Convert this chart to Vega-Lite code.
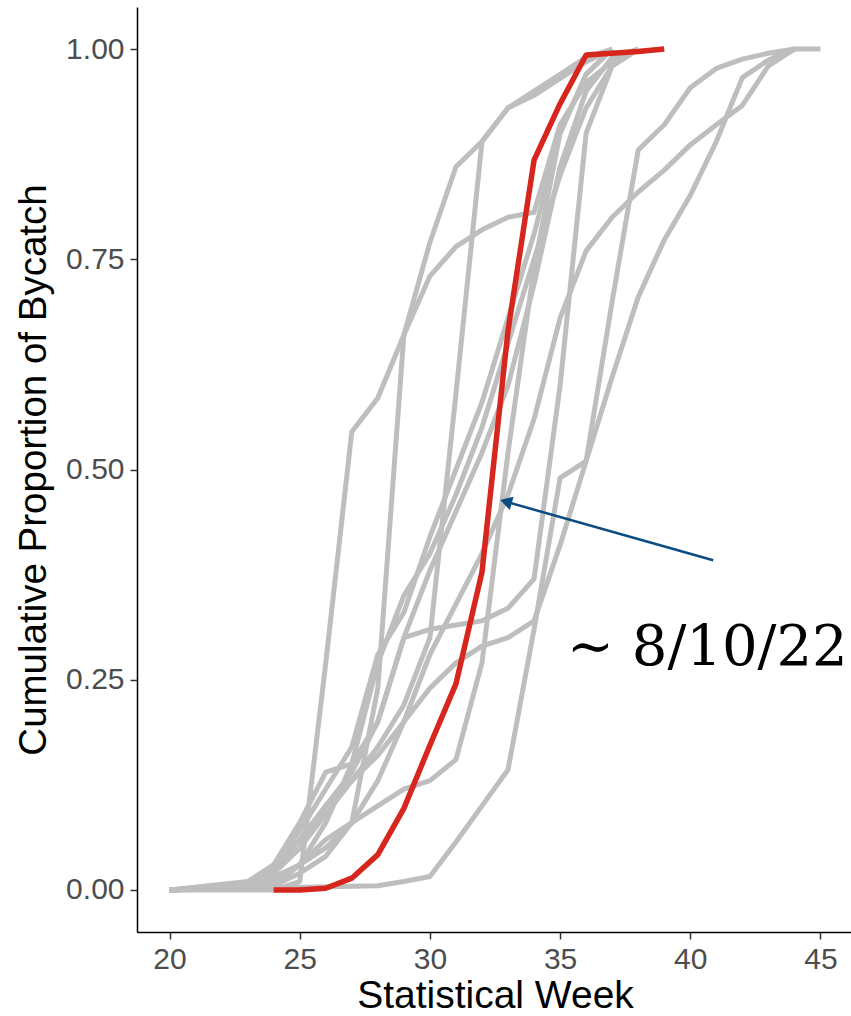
{
  "$schema": "https://vega.github.io/schema/vega-lite/v6.json",
  "autosize": {"type": "none"},
  "width": 716,
  "height": 925,
  "padding": {"left": 137, "top": 7, "right": 0, "bottom": 84},
  "background": "white",
  "config": {
    "view": {"stroke": null},
    "axis": {"grid": false, "domainColor": "#000000", "domainWidth": 1.5, "tickColor": "#333333", "tickWidth": 1.5, "tickSize": 7, "labelColor": "#4D4D4D", "labelFont": "Liberation Sans", "labelFontSize": 30, "titleFont": "Liberation Sans", "titleFontWeight": "normal", "titleColor": "#000000"}
  },
  "datasets": {
    "lines": [
      {"s": "g1", "week": 20, "value": 0}, {"s": "g1", "week": 24, "value": 0}, {"s": "g1", "week": 25, "value": 0.01}, {"s": "g1", "week": 26, "value": 0.27}, {"s": "g1", "week": 27, "value": 0.545}, {"s": "g1", "week": 28, "value": 0.585}, {"s": "g1", "week": 29, "value": 0.66}, {"s": "g1", "week": 30, "value": 0.77}, {"s": "g1", "week": 31, "value": 0.86}, {"s": "g1", "week": 32, "value": 0.89}, {"s": "g1", "week": 33, "value": 0.93}, {"s": "g1", "week": 34, "value": 0.945}, {"s": "g1", "week": 35, "value": 0.965}, {"s": "g1", "week": 36, "value": 0.985}, {"s": "g1", "week": 37, "value": 1},
      {"s": "v1", "week": 20, "value": 0}, {"s": "v1", "week": 23, "value": 0.005}, {"s": "v1", "week": 24, "value": 0.015}, {"s": "v1", "week": 25, "value": 0.03}, {"s": "v1", "week": 26, "value": 0.05}, {"s": "v1", "week": 27, "value": 0.08}, {"s": "v1", "week": 28, "value": 0.24}, {"s": "v1", "week": 29, "value": 0.66}, {"s": "v1", "week": 30, "value": 0.73}, {"s": "v1", "week": 31, "value": 0.765}, {"s": "v1", "week": 32, "value": 0.785}, {"s": "v1", "week": 33, "value": 0.8}, {"s": "v1", "week": 34, "value": 0.806}, {"s": "v1", "week": 35, "value": 0.91}, {"s": "v1", "week": 36, "value": 0.96}, {"s": "v1", "week": 37, "value": 0.985}, {"s": "v1", "week": 38, "value": 1},
      {"s": "v2", "week": 20, "value": 0}, {"s": "v2", "week": 23, "value": 0.005}, {"s": "v2", "week": 24, "value": 0.02}, {"s": "v2", "week": 25, "value": 0.05}, {"s": "v2", "week": 26, "value": 0.09}, {"s": "v2", "week": 27, "value": 0.13}, {"s": "v2", "week": 28, "value": 0.17}, {"s": "v2", "week": 29, "value": 0.22}, {"s": "v2", "week": 30, "value": 0.3}, {"s": "v2", "week": 31, "value": 0.59}, {"s": "v2", "week": 32, "value": 0.89}, {"s": "v2", "week": 33, "value": 0.93}, {"s": "v2", "week": 34, "value": 0.95}, {"s": "v2", "week": 35, "value": 0.97}, {"s": "v2", "week": 36, "value": 0.99}, {"s": "v2", "week": 37, "value": 1},
      {"s": "late", "week": 20, "value": 0}, {"s": "late", "week": 28, "value": 0.005}, {"s": "late", "week": 29, "value": 0.01}, {"s": "late", "week": 30, "value": 0.016}, {"s": "late", "week": 31, "value": 0.057}, {"s": "late", "week": 32, "value": 0.1}, {"s": "late", "week": 33, "value": 0.143}, {"s": "late", "week": 34, "value": 0.31}, {"s": "late", "week": 35, "value": 0.49}, {"s": "late", "week": 36, "value": 0.51}, {"s": "late", "week": 37, "value": 0.7}, {"s": "late", "week": 38, "value": 0.88}, {"s": "late", "week": 39, "value": 0.91}, {"s": "late", "week": 40, "value": 0.954}, {"s": "late", "week": 41, "value": 0.977}, {"s": "late", "week": 42, "value": 0.988}, {"s": "late", "week": 43, "value": 0.995}, {"s": "late", "week": 44, "value": 1},
      {"s": "late2", "week": 20, "value": 0}, {"s": "late2", "week": 23, "value": 0.005}, {"s": "late2", "week": 24, "value": 0.025}, {"s": "late2", "week": 25, "value": 0.06}, {"s": "late2", "week": 26, "value": 0.1}, {"s": "late2", "week": 27, "value": 0.13}, {"s": "late2", "week": 28, "value": 0.16}, {"s": "late2", "week": 29, "value": 0.2}, {"s": "late2", "week": 30, "value": 0.24}, {"s": "late2", "week": 31, "value": 0.27}, {"s": "late2", "week": 32, "value": 0.29}, {"s": "late2", "week": 33, "value": 0.3}, {"s": "late2", "week": 34, "value": 0.32}, {"s": "late2", "week": 35, "value": 0.41}, {"s": "late2", "week": 36, "value": 0.51}, {"s": "late2", "week": 37, "value": 0.61}, {"s": "late2", "week": 38, "value": 0.705}, {"s": "late2", "week": 39, "value": 0.773}, {"s": "late2", "week": 40, "value": 0.826}, {"s": "late2", "week": 41, "value": 0.89}, {"s": "late2", "week": 42, "value": 0.966}, {"s": "late2", "week": 43, "value": 0.987}, {"s": "late2", "week": 44, "value": 1}, {"s": "late2", "week": 45, "value": 1},
      {"s": "m1", "week": 20, "value": 0}, {"s": "m1", "week": 23, "value": 0.01}, {"s": "m1", "week": 24, "value": 0.03}, {"s": "m1", "week": 25, "value": 0.07}, {"s": "m1", "week": 26, "value": 0.12}, {"s": "m1", "week": 27, "value": 0.17}, {"s": "m1", "week": 28, "value": 0.28}, {"s": "m1", "week": 29, "value": 0.33}, {"s": "m1", "week": 30, "value": 0.42}, {"s": "m1", "week": 31, "value": 0.5}, {"s": "m1", "week": 32, "value": 0.58}, {"s": "m1", "week": 33, "value": 0.68}, {"s": "m1", "week": 34, "value": 0.78}, {"s": "m1", "week": 35, "value": 0.9}, {"s": "m1", "week": 36, "value": 0.97}, {"s": "m1", "week": 37, "value": 1},
      {"s": "m2", "week": 20, "value": 0}, {"s": "m2", "week": 23, "value": 0.005}, {"s": "m2", "week": 24, "value": 0.02}, {"s": "m2", "week": 25, "value": 0.05}, {"s": "m2", "week": 26, "value": 0.1}, {"s": "m2", "week": 27, "value": 0.14}, {"s": "m2", "week": 28, "value": 0.2}, {"s": "m2", "week": 29, "value": 0.3}, {"s": "m2", "week": 30, "value": 0.38}, {"s": "m2", "week": 31, "value": 0.45}, {"s": "m2", "week": 32, "value": 0.52}, {"s": "m2", "week": 33, "value": 0.6}, {"s": "m2", "week": 34, "value": 0.72}, {"s": "m2", "week": 35, "value": 0.86}, {"s": "m2", "week": 36, "value": 0.95}, {"s": "m2", "week": 37, "value": 0.99}, {"s": "m2", "week": 38, "value": 1},
      {"s": "m3", "week": 20, "value": 0}, {"s": "m3", "week": 24, "value": 0.005}, {"s": "m3", "week": 25, "value": 0.03}, {"s": "m3", "week": 26, "value": 0.08}, {"s": "m3", "week": 27, "value": 0.15}, {"s": "m3", "week": 28, "value": 0.27}, {"s": "m3", "week": 29, "value": 0.35}, {"s": "m3", "week": 30, "value": 0.4}, {"s": "m3", "week": 31, "value": 0.47}, {"s": "m3", "week": 32, "value": 0.55}, {"s": "m3", "week": 33, "value": 0.65}, {"s": "m3", "week": 34, "value": 0.75}, {"s": "m3", "week": 35, "value": 0.85}, {"s": "m3", "week": 36, "value": 0.93}, {"s": "m3", "week": 37, "value": 0.98}, {"s": "m3", "week": 38, "value": 1},
      {"s": "m4", "week": 20, "value": 0}, {"s": "m4", "week": 23, "value": 0.005}, {"s": "m4", "week": 24, "value": 0.03}, {"s": "m4", "week": 25, "value": 0.08}, {"s": "m4", "week": 26, "value": 0.14}, {"s": "m4", "week": 27, "value": 0.15}, {"s": "m4", "week": 28, "value": 0.2}, {"s": "m4", "week": 29, "value": 0.3}, {"s": "m4", "week": 30, "value": 0.31}, {"s": "m4", "week": 31, "value": 0.315}, {"s": "m4", "week": 32, "value": 0.32}, {"s": "m4", "week": 33, "value": 0.335}, {"s": "m4", "week": 34, "value": 0.37}, {"s": "m4", "week": 35, "value": 0.6}, {"s": "m4", "week": 36, "value": 0.9}, {"s": "m4", "week": 37, "value": 0.98}, {"s": "m4", "week": 38, "value": 1},
      {"s": "m6", "week": 20, "value": 0}, {"s": "m6", "week": 24, "value": 0.01}, {"s": "m6", "week": 25, "value": 0.03}, {"s": "m6", "week": 26, "value": 0.06}, {"s": "m6", "week": 27, "value": 0.08}, {"s": "m6", "week": 28, "value": 0.1}, {"s": "m6", "week": 29, "value": 0.12}, {"s": "m6", "week": 30, "value": 0.13}, {"s": "m6", "week": 31, "value": 0.155}, {"s": "m6", "week": 32, "value": 0.27}, {"s": "m6", "week": 33, "value": 0.52}, {"s": "m6", "week": 34, "value": 0.74}, {"s": "m6", "week": 35, "value": 0.9}, {"s": "m6", "week": 36, "value": 0.97}, {"s": "m6", "week": 37, "value": 1},
      {"s": "m5", "week": 20, "value": 0}, {"s": "m5", "week": 24, "value": 0.005}, {"s": "m5", "week": 25, "value": 0.02}, {"s": "m5", "week": 26, "value": 0.04}, {"s": "m5", "week": 27, "value": 0.08}, {"s": "m5", "week": 28, "value": 0.13}, {"s": "m5", "week": 29, "value": 0.2}, {"s": "m5", "week": 30, "value": 0.28}, {"s": "m5", "week": 31, "value": 0.34}, {"s": "m5", "week": 32, "value": 0.4}, {"s": "m5", "week": 33, "value": 0.47}, {"s": "m5", "week": 34, "value": 0.56}, {"s": "m5", "week": 35, "value": 0.68}, {"s": "m5", "week": 36, "value": 0.76}, {"s": "m5", "week": 37, "value": 0.8}, {"s": "m5", "week": 38, "value": 0.83}, {"s": "m5", "week": 39, "value": 0.856}, {"s": "m5", "week": 40, "value": 0.886}, {"s": "m5", "week": 41, "value": 0.91}, {"s": "m5", "week": 42, "value": 0.933}, {"s": "m5", "week": 43, "value": 0.98}, {"s": "m5", "week": 44, "value": 1},
      {"s": "red", "week": 24, "value": 0}, {"s": "red", "week": 25, "value": 0.0}, {"s": "red", "week": 26, "value": 0.002}, {"s": "red", "week": 27, "value": 0.014}, {"s": "red", "week": 28, "value": 0.042}, {"s": "red", "week": 29, "value": 0.097}, {"s": "red", "week": 30, "value": 0.172}, {"s": "red", "week": 31, "value": 0.245}, {"s": "red", "week": 32, "value": 0.378}, {"s": "red", "week": 33, "value": 0.665}, {"s": "red", "week": 34, "value": 0.868}, {"s": "red", "week": 35, "value": 0.935}, {"s": "red", "week": 36, "value": 0.993}, {"s": "red", "week": 37, "value": 0.995}, {"s": "red", "week": 38, "value": 0.997}, {"s": "red", "week": 39, "value": 1}
    ]
  },
  "layer": [
    {
      "data": {"name": "lines"},
      "transform": [{"filter": "datum.s !== 'red'"}],
      "mark": {"type": "line", "color": "#BEBEBE", "strokeWidth": 5, "strokeJoin": "round", "strokeCap": "butt"},
      "encoding": {
        "x": {"field": "week", "type": "quantitative", "scale": {"domain": [18.75, 46.25], "nice": false, "zero": false}, "axis": {"values": [20, 25, 30, 35, 40, 45], "title": "Statistical Week", "titleFontSize": 39, "labelPadding": 5, "titlePadding": 2}},
        "y": {"field": "value", "type": "quantitative", "scale": {"domain": [-0.05, 1.05], "nice": false, "zero": false}, "axis": {"values": [0, 0.25, 0.5, 0.75, 1], "format": ".2f", "title": "Cumulative Proportion of Bycatch", "titleFontSize": 38.5, "labelPadding": 6, "titlePadding": 12}},
        "detail": {"field": "s"},
        "order": {"field": "week", "type": "quantitative"}
      }
    },
    {
      "data": {"name": "lines"},
      "transform": [{"filter": "datum.s === 'red'"}],
      "mark": {"type": "line", "color": "#D7261E", "strokeWidth": 5.5, "strokeJoin": "round"},
      "encoding": {
        "x": {"field": "week", "type": "quantitative"},
        "y": {"field": "value", "type": "quantitative"},
        "order": {"field": "week", "type": "quantitative"}
      }
    },
    {
      "data": {"values": [{"x": 40.88, "y": 0.392, "x2": 32.92, "y2": 0.4617}]},
      "mark": {"type": "rule", "color": "#0B4A82", "strokeWidth": 2.5},
      "encoding": {
        "x": {"field": "x", "type": "quantitative"},
        "y": {"field": "y", "type": "quantitative"},
        "x2": {"field": "x2"},
        "y2": {"field": "y2"}
      }
    },
    {
      "data": {"values": [{"x": 32.92, "y": 0.4617}]},
      "mark": {"type": "point", "shape": "triangle-up", "filled": true, "color": "#0B4A82", "opacity": 1, "size": 190, "angle": 286},
      "encoding": {
        "x": {"field": "x", "type": "quantitative"},
        "y": {"field": "y", "type": "quantitative"}
      }
    },
    {
      "data": {"values": [{"x": 35.27, "y": 0.2675, "label": "~ 8/10/22"}]},
      "mark": {"type": "text", "font": "DejaVu Serif", "fontSize": 56, "align": "left", "baseline": "alphabetic", "color": "#000000"},
      "encoding": {
        "x": {"field": "x", "type": "quantitative"},
        "y": {"field": "y", "type": "quantitative"},
        "text": {"field": "label"}
      }
    }
  ]
}
